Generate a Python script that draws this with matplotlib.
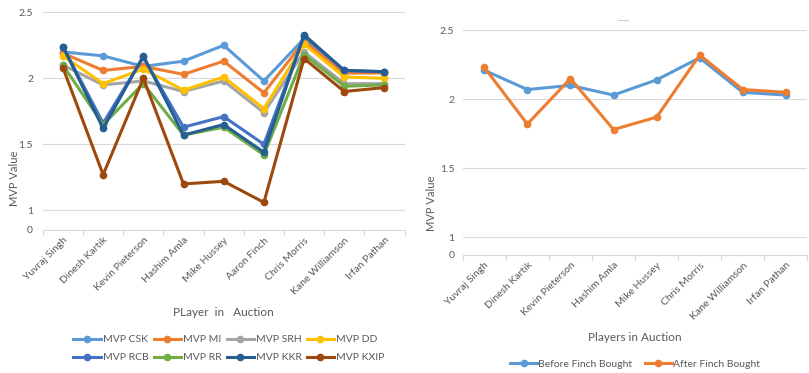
import matplotlib.pyplot as plt
from matplotlib.lines import Line2D

plt.rcParams['font.family'] = ['Lato', 'DejaVu Sans']

players = ["Yuvraj Singh", "Dinesh Kartik", "Kevin Pieterson", "Hashim Amla",
           "Mike Hussey", "Aaron Finch", "Chris Morris", "Kane Williamson",
           "Irfan Pathan"]

mvp_csk = [2.20, 2.17, 2.09, 2.13, 2.25, 1.98, 2.30, 2.05, 2.05]
mvp_mi = [2.19, 2.06, 2.09, 2.03, 2.13, 1.89, 2.28, 2.04, 2.04]
mvp_srh = [2.10, 1.95, 1.98, 1.90, 1.98, 1.74, 2.20, 1.96, 1.96]
mvp_dd = [2.17, 1.96, 2.07, 1.91, 2.01, 1.77, 2.26, 2.01, 2.00]
mvp_rcb = [2.24, 1.66, 2.16, 1.63, 1.71, 1.50, 2.32, 2.06, 2.05]
mvp_rr = [2.10, 1.65, 1.96, 1.57, 1.63, 1.42, 2.18, 1.94, 1.95]
mvp_kkr = [2.24, 1.62, 2.17, 1.57, 1.65, 1.44, 2.33, 2.06, 2.05]
mvp_kxip = [2.08, 1.27, 2.00, 1.20, 1.22, 1.06, 2.15, 1.90, 1.93]

teams = ["MVP CSK", "MVP MI", "MVP SRH", "MVP DD",
         "MVP RCB", "MVP RR", "MVP KKR", "MVP KXIP"]
team_values = [mvp_csk, mvp_mi, mvp_srh, mvp_dd, mvp_rcb, mvp_rr, mvp_kkr, mvp_kxip]
team_colors = ["#5B9BD5", "#ED7D31", "#A5A5A5", "#FFC000",
               "#4472C4", "#70AD47", "#255E91", "#9E480E"]

players2 = ["Yuvraj Singh", "Dinesh Kartik", "Kevin Pieterson", "Hashim Amla",
            "Mike Hussey", "Chris Morris", "Kane Williamson", "Irfan Pathan"]
before_finch = [2.21, 2.07, 2.10, 2.03, 2.14, 2.30, 2.05, 2.03]
after_finch = [2.23, 1.82, 2.15, 1.78, 1.87, 2.32, 2.07, 2.05]

ytick_pos = [1, 1.5, 2, 2.5]
ytick_lab = ["1", "1.5", "2", "2.5"]

text_col = "#595959"
grid_col = "#D9D9D9"

fig = plt.figure(figsize=(8.09, 3.73), dpi=100)


def style_axes(ax, labels, ymin, zero_x, ypad):
    n = len(labels)
    ax.set_xlim(-0.5, n - 0.5)
    ax.set_ylim(ymin, 2.5)
    ax.set_yticks(ytick_pos)
    ax.set_yticklabels(ytick_lab)
    ax.set_xticks(range(n))
    ax.set_xticklabels(labels, rotation=45, ha='right', rotation_mode='anchor',
                       fontsize=7.5, color=text_col)
    ax.tick_params(axis='x', length=0, pad=4)
    ax.tick_params(axis='y', length=0, labelsize=7.5, labelcolor=text_col, pad=ypad)
    ax.grid(axis='y', color=grid_col, lw=0.8)
    ax.set_axisbelow(True)
    for s in ['top', 'right', 'left']:
        ax.spines[s].set_visible(False)
    ax.spines['bottom'].set_color(grid_col)
    # "0" label sits at the bottom edge
    ax.text(zero_x, ymin, "0", transform=ax.get_yaxis_transform(),
            ha='right', va='center', fontsize=7.5, color=text_col)
    # category boundary ticks under the axis
    for b in range(n + 1):
        ax.plot([b - 0.5, b - 0.5], [ymin, ymin - 0.035], color=grid_col,
                lw=0.8, clip_on=False)


# left chart: all teams
ax1 = fig.add_axes([0.053, 0.383, 0.447, 0.584])
for name, vals, col in zip(teams, team_values, team_colors):
    ax1.plot(range(len(players)), vals, color=col, lw=2.2, marker='o',
             markersize=4.5, label=name)
style_axes(ax1, players, 0.85, -0.028, 7)
ax1.set_ylabel("MVP Value", fontsize=8, color=text_col)
ax1.yaxis.set_label_coords(-0.062, 0.24)
ax1.set_xlabel("PLayer  in   Auction", fontsize=8.5, color=text_col, labelpad=8)

# legend filled row by row (two rows of four)
order = [0, 4, 1, 5, 2, 6, 3, 7]
handles = [Line2D([], [], color=team_colors[i], lw=2.2, marker='o', markersize=4.5)
           for i in order]
fig.legend(handles, [teams[i] for i in order], loc='center',
           bbox_to_anchor=(0.283, 0.065),
           ncol=4, frameon=False, fontsize=7.5, labelcolor=text_col,
           handlelength=2.6, handletextpad=0.2, columnspacing=0.5,
           labelspacing=0.85)

# right chart: before/after Finch
ax2 = fig.add_axes([0.572, 0.316, 0.426, 0.603])
ax2.plot(range(len(players2)), before_finch, color="#5B9BD5", lw=2.2,
         marker='o', markersize=4.5, label="Before Finch Bought")
ax2.plot(range(len(players2)), after_finch, color="#ED7D31", lw=2.2,
         marker='o', markersize=4.5, label="After Finch Bought")
style_axes(ax2, players2, 0.87, -0.024, 6)
ax2.set_ylabel("MVP Value", fontsize=8, color=text_col)
ax2.yaxis.set_label_coords(-0.075, 0.23)
ax2.set_xlabel("Players in Auction", fontsize=8.5, color=text_col, labelpad=8)
ax2.plot([0.45, 0.48], [1.045, 1.045], transform=ax2.transAxes, color="#D0D0D0",
         lw=0.8, clip_on=False)
ax2.legend(loc='center', bbox_to_anchor=(0.5, -0.485), ncol=2, frameon=False,
           fontsize=7.5, labelcolor=text_col, handlelength=2.6,
           handletextpad=0.1, columnspacing=1.2)

fig.savefig("out.png", dpi=100, facecolor='white')
